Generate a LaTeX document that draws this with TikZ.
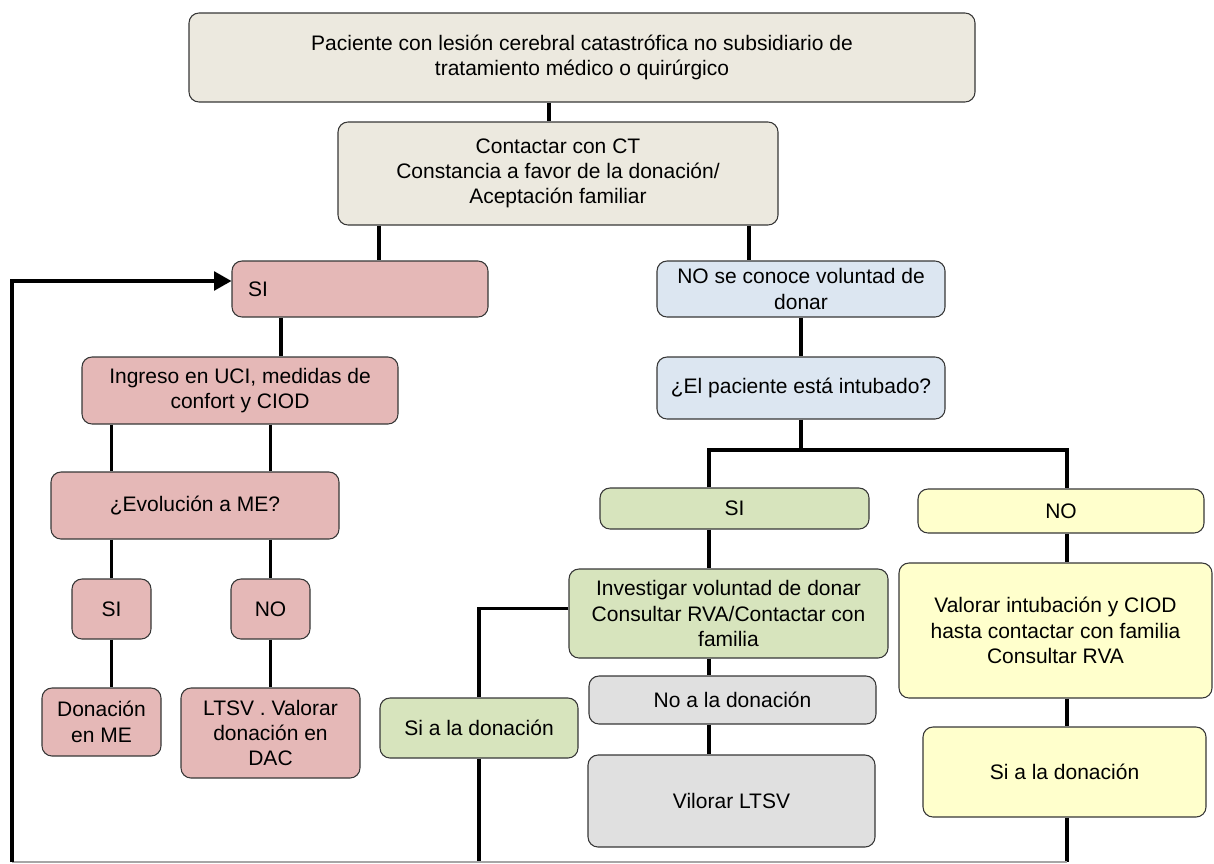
\documentclass[tikz,border=0pt]{standalone}
\usepackage{fontspec}
\setmainfont{Liberation Sans}
\usetikzlibrary{arrows.meta}

\definecolor{beige}{RGB}{236,233,223}
\definecolor{rosa}{RGB}{229,184,183}
\definecolor{azul}{RGB}{220,230,241}
\definecolor{verde}{RGB}{215,228,189}
\definecolor{amarillo}{RGB}{255,255,204}
\definecolor{gris}{RGB}{224,224,224}
\definecolor{borde}{RGB}{55,55,55}

\begin{document}
\begin{tikzpicture}[x=0.75pt,y=-0.75pt,
    font=\fontsize{15.75}{19}\selectfont,
    box/.style={draw=borde,line width=0.8pt,rounded corners=7.5pt,
      align=center,inner sep=0pt},
    sz/.style 2 args={minimum width=#1*0.75pt,minimum height=#2*0.75pt},
    wire/.style={line width=2.4pt}]
  \useasboundingbox (0,0) rectangle (1214,864);

  \node[box,fill=beige,sz={786}{89}] (top) at (582,57.5)
    {Paciente con lesión cerebral catastrófica no subsidiario de\\
     tratamiento médico o quirúrgico};
  \node[box,fill=beige,sz={440}{103}] (cont) at (558,173.5)
    {Contactar con CT\\Constancia a favor de la donación/\\Aceptación familiar};

  % rama SI
  \node[box,fill=rosa,sz={256}{56},align=left,inner xsep=12pt,
    text width=168pt] (si) at (360,289) {SI};
  \node[box,fill=rosa,sz={316}{67}] (ingr) at (240,390.5)
    {Ingreso en UCI, medidas de\\confort y CIOD};
  \node[box,fill=rosa,sz={288}{67}] (evol) at (195,505.5) {¿Evolución a ME?};
  \node[box,fill=rosa,sz={79}{60}] (sime) at (111.5,609) {SI};
  \node[box,fill=rosa,sz={79}{60}] (nome) at (270.5,609) {NO};
  \node[box,fill=rosa,sz={119}{68}] (don) at (101.5,722) {Donación\\en ME};
  \node[box,fill=rosa,sz={179}{90}] (ltsv) at (270.5,733)
    {LTSV . Valorar\\donación en\\DAC};

  % rama NO
  \node[box,fill=azul,sz={288}{56}] (nocon) at (801,289)
    {NO se conoce voluntad de\\donar};
  \node[box,fill=azul,sz={288}{62}] (intub) at (801,388)
    {¿El paciente está intubado?};
  \node[box,fill=verde,sz={269}{41}] (sisi) at (734.5,508.5) {SI};
  \node[box,fill=amarillo,sz={286}{44}] (nono) at (1061,511) {NO};
  \node[box,fill=verde,sz={319}{89}] (inv) at (728.5,613.5)
    {Investigar voluntad de donar\\Consultar RVA/Contactar con\\familia};
  \node[box,fill=gris,sz={287}{48}] (nodon) at (732.5,700) {No a la donación};
  \node[box,fill=gris,sz={287}{92}] (vil) at (731.5,801) {Vilorar LTSV};
  \node[box,fill=verde,sz={198}{60}] (sidon) at (479,728) {Si a la donación};
  \node[box,fill=amarillo,sz={313}{135}] (valint) at (1055.5,630.5)
    {Valorar intubación y CIOD\\hasta contactar con familia\\Consultar RVA};
  \node[box,fill=amarillo,sz={283}{90}] (siam) at (1064.5,772)
    {Si a la donación};

  \coordinate (xa) at (549,0);
  \coordinate (xb) at (379,0);
  \coordinate (xc) at (749,0);
  \coordinate (xd) at (281,0);
  \coordinate (fork) at (801,450);
  \coordinate (cl) at (709,450);
  \coordinate (cr) at (1067,450);
  \coordinate (loop) at (12,862);

  \draw[wire] (top.south -| xa) -- (cont.north -| xa);
  \draw[wire] (cont.south -| xb) -- (si.north -| xb);
  \draw[wire] (cont.south -| xc) -- (nocon.north -| xc);
  \draw[wire] (si.south -| xd) -- (ingr.north -| xd);
  \draw[wire] (ingr.south -| sime) -- (evol.north -| sime);
  \draw[wire] (ingr.south -| nome) -- (evol.north -| nome);
  \draw[wire] (evol.south -| sime) -- (sime.north);
  \draw[wire] (evol.south -| nome) -- (nome.north);
  \draw[wire] (sime.south) -- (sime |- don.north);
  \draw[wire] (nome.south) -- (ltsv.north);

  \draw[wire] (nocon.south) -- (intub.north);
  \draw[wire] (intub.south) -- (fork);
  \draw[wire] (cl |- sisi.north) -- (cl) -- (cr) -- (cr |- nono.north);
  \draw[wire] (sisi.south -| cl) -- (inv.north -| cl);
  \draw[wire] (inv.south -| cl) -- (nodon.north -| cl);
  \draw[wire] (nodon.south -| cl) -- (vil.north -| cl);
  \draw[wire] (nono.south -| cr) -- (valint.north -| cr);
  \draw[wire] (valint.south -| cr) -- (siam.north -| cr);
  \draw[wire] (siam.south -| cr) -- (cr |- loop);

  \draw[wire] ([yshift=4pt]inv.west) -| (sidon.north);
  \draw[wire] (sidon.south) -- (sidon |- loop);
  \draw[gray!70,line width=1pt] (loop) -- (cr |- loop);
  \draw[wire,-{Triangle[length=13pt,width=14pt]}]
    (loop) |- ([yshift=6pt]si.west);
\end{tikzpicture}
\end{document}
